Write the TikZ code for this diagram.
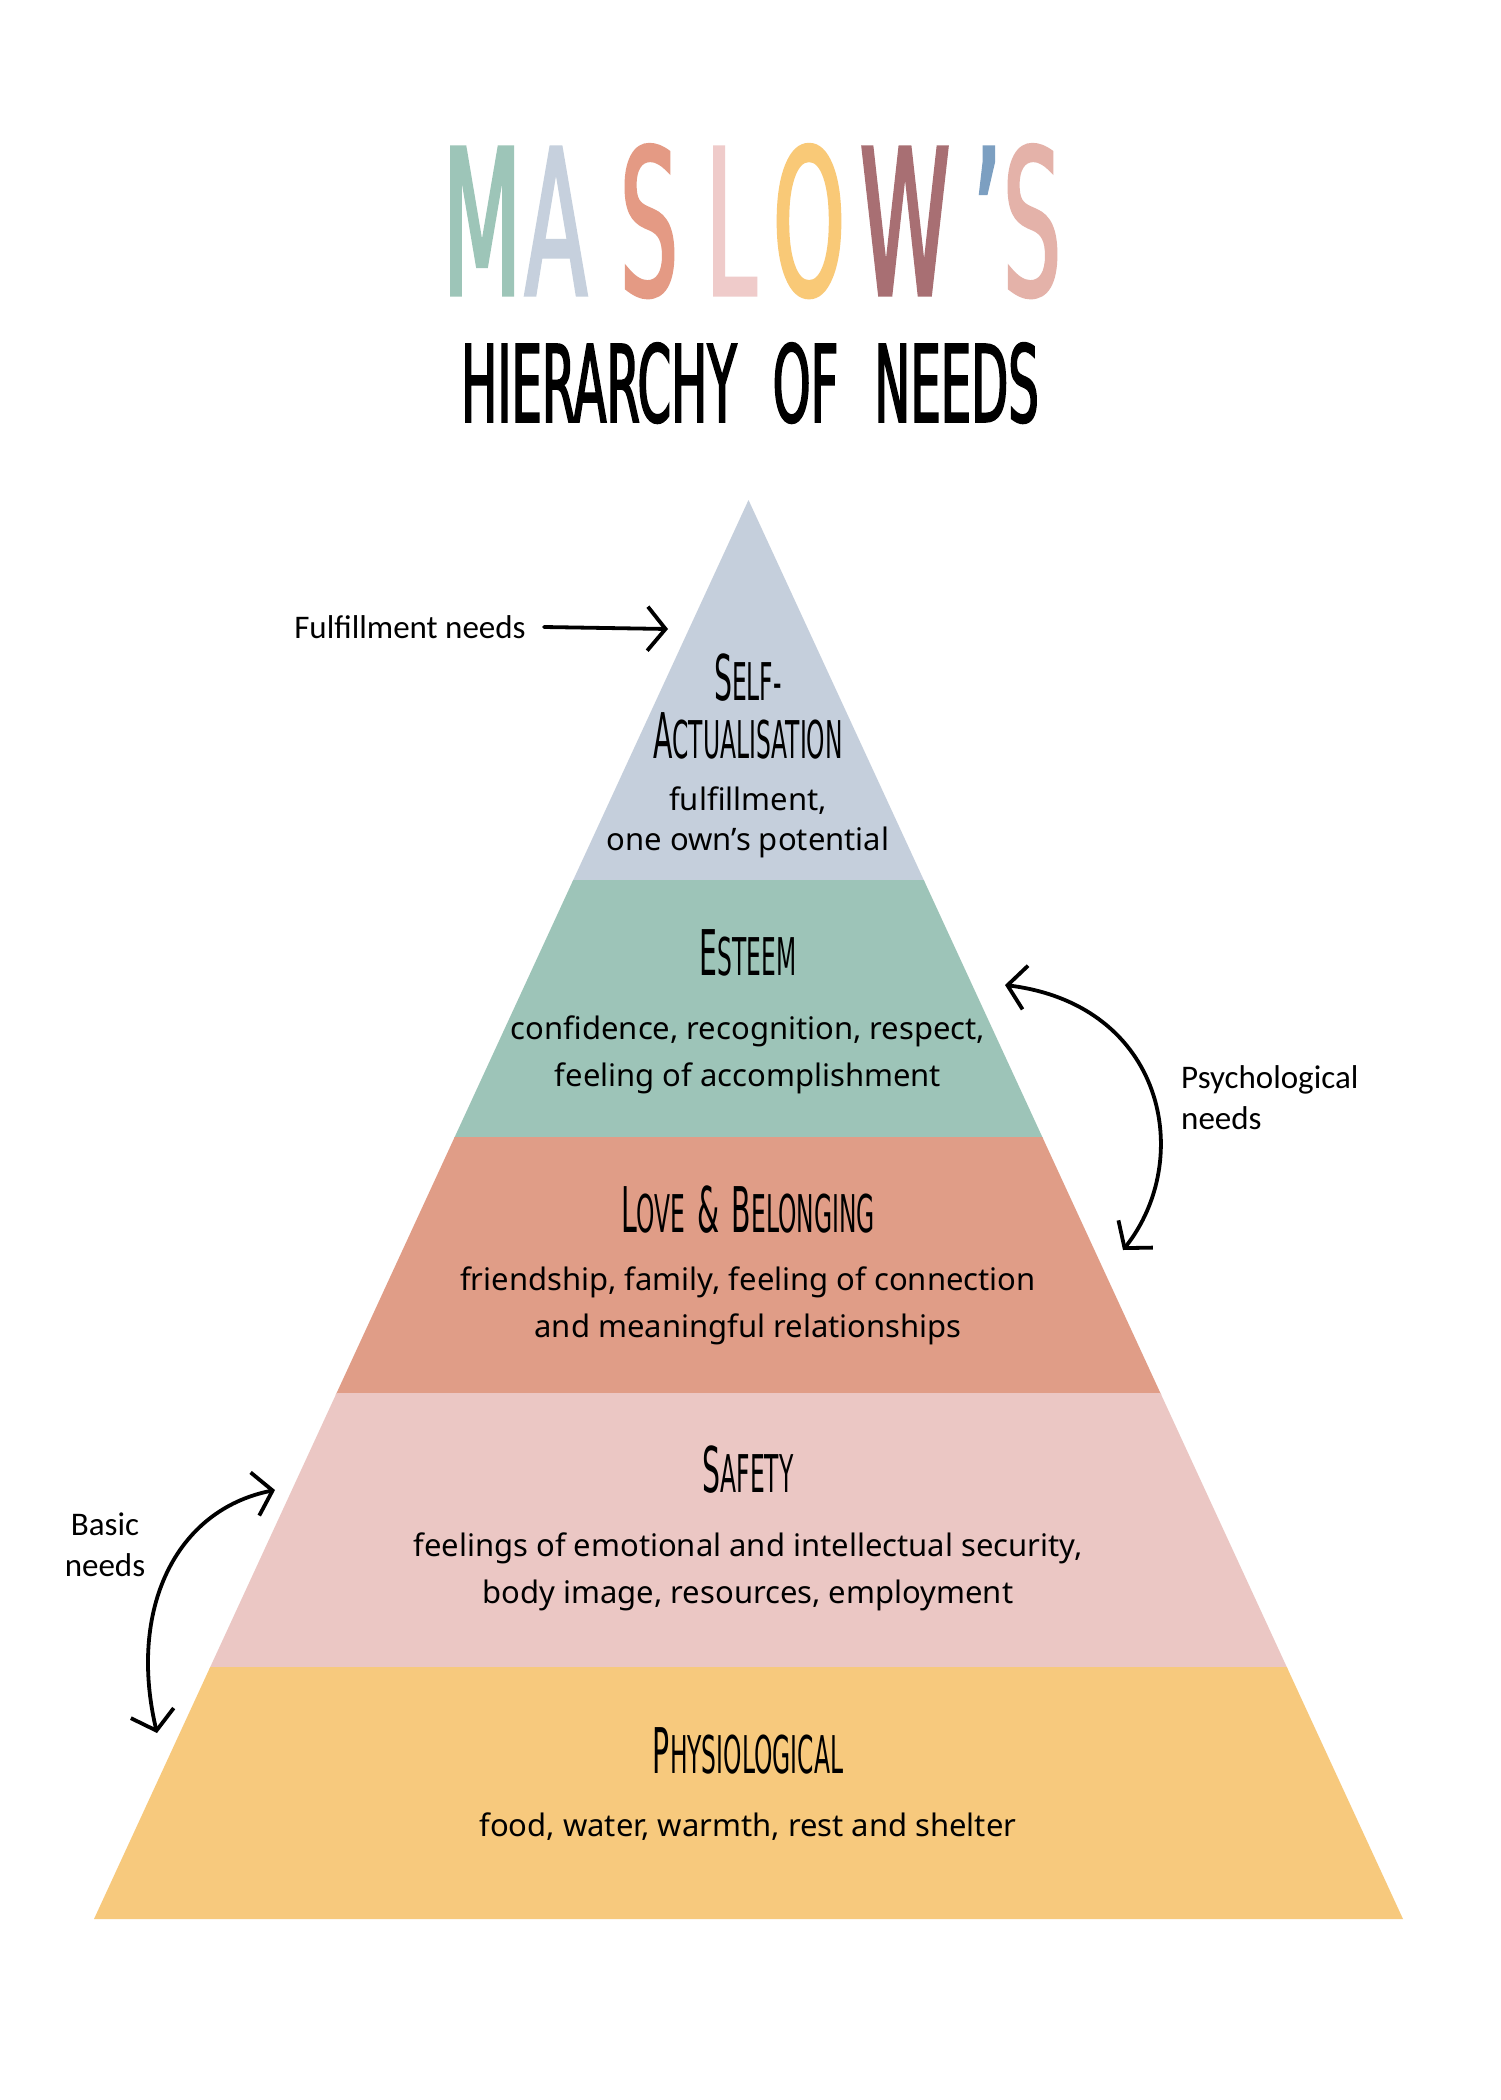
\documentclass[tikz,border=0pt]{standalone}
\usepackage{fontspec}
\setmainfont{Noto Sans}
\newfontfamily\titlefont[FakeStretch=0.45,FakeBold=1.5]{DejaVu Sans}
\newfontfamily\levelfont[FakeStretch=0.45]{DejaVu Sans}
\newfontfamily\notefont{Carlito}
\usetikzlibrary{arrows.meta}
\definecolor{mzmint}{HTML}{9DC5B8}
\definecolor{mzsky}{HTML}{C6D0DD}
\definecolor{mzcoral}{HTML}{E49A84}
\definecolor{mzrose}{HTML}{EFCBCA}
\definecolor{mzsun}{HTML}{F9C977}
\definecolor{mzplum}{HTML}{A86F73}
\definecolor{mzsteel}{HTML}{7C9FC1}
\definecolor{mzblush}{HTML}{E4B2A9}
\definecolor{lvlself}{HTML}{C5CFDC}
\definecolor{lvlesteem}{HTML}{9DC4B8}
\definecolor{lvllove}{HTML}{E09D87}
\definecolor{lvlsafety}{HTML}{EBC7C4}
\definecolor{lvlphysio}{HTML}{F7C97D}
\newcommand{\lvlhead}[2]{{\fontsize{63}{63}\selectfont #1}{\fontsize{52}{52}\selectfont #2}}
\tikzset{
  layerhead/.style={font=\levelfont, text=black, anchor=base, inner sep=0pt},
  layertext/.style={font=\fontsize{31}{47}\selectfont, text=black, align=center, inner sep=0pt},
  handnote/.style={font=\notefont\fontsize{33}{41}\selectfont, text=black, inner sep=0pt},
  needarrow/.style={line width=3.8pt, line cap=round, draw=black},
  >={Straight Barb[length=18pt,width=44pt,line width=3.8pt]}
}

\begin{document}
\begin{tikzpicture}[
        x=1pt,y=-1pt,
        titleletter/.style={font=\titlefont\fontsize{203}{203}\selectfont,
            anchor=base, inner sep=0pt},
        subtitle/.style={font=\titlefont\fontsize{107}{107}\selectfont,
            anchor=base, inner sep=0pt, text=black}
    ]
        \useasboundingbox (0,0) rectangle (1500,2100);
        \fill[white] (0,0) rectangle (1500,2100);

        % title
        \foreach \ch/\col/\xx [count=\i] in {M/mzmint/482,A/mzsky/556,S/mzcoral/649,L/mzrose/731,
            O/mzsun/809,W/mzplum/905,’/mzsteel/987,S/mzblush/1032}
            \node[titleletter, text=\col] (ttl\i) at (\xx,295) {\ch};
        \node[subtitle] (subttl) at (750,422) {HIERARCHY\hspace{36pt}OF\hspace{36pt}NEEDS};

        % pyramid
        \coordinate (apex) at (748.5,500);
        \coordinate (baseL) at (94,1919);
        \coordinate (baseR) at (1403,1919);
        \begin{scope}
            \clip (apex) -- (baseR) -- (baseL) -- cycle;
            \foreach \ytop/\ybot/\col in {480/882/lvlself,880/1139/lvlesteem,1137/1395/lvllove,
                1393/1669/lvlsafety,1667/1925/lvlphysio}
                \fill[\col] (0,\ytop) rectangle (1500,\ybot);
        \end{scope}

        \node[layerhead] (selfhd) at (748,700) {\lvlhead{S}{ELF-}};
        \node[layerhead] (actuhd) at (748,758) {\lvlhead{A}{CTUALISATION}};
        \node[layertext, font=\fontsize{31}{40}\selectfont] (selftx) at (748,822) {fulfillment,\\one own’s potential};

        \node[layerhead] (esthd) at (748,975) {\lvlhead{E}{STEEM}};
        \node[layertext] (esttx) at (748,1055) {confidence, recognition, respect,\\feeling of accomplishment};

        \node[layerhead] (lovehd) at (748,1232) {\lvlhead{L}{OVE}\hspace{12pt}\lvlhead{\&}{}\hspace{12pt}\lvlhead{B}{ELONGING}};
        \node[layertext] (lovetx) at (748,1306) {friendship, family, feeling of connection\\and meaningful relationships};

        \node[layerhead] (safehd) at (748,1492) {\lvlhead{S}{AFETY}};
        \node[layertext] (safetx) at (748,1572) {feelings of emotional and intellectual security,\\body image, resources, employment};

        \node[layerhead] (physhd) at (748,1773) {\lvlhead{P}{HYSIOLOGICAL}};
        \node[layertext] (phystx) at (748,1827) {food, water, warmth, rest and shelter};

        % side notes
        \node[handnote] (fulfil) at (410,627) {Fulfillment needs};
        \node[handnote, align=left, anchor=west] (psych) at (1181,1098) {Psychological\\needs};
        \node[handnote, align=center] (basic) at (105,1545) {Basic\\needs};

        \coordinate (fultip) at (668,629);
        \coordinate (psytop) at (1005,985);
        \coordinate (psybot) at (1123,1250);
        \coordinate (bastop) at (275,1490);
        \coordinate (basbot) at (157,1733);

        \draw[needarrow, ->] ([xshift=18pt]fulfil.east) -- (fultip);
        \draw[needarrow, <->] (psytop) .. controls (1165,1005) and (1195,1159) .. (psybot);
        \draw[needarrow, <->] (bastop) .. controls (175,1510) and (128,1610) .. (basbot);
    \end{tikzpicture}
\end{document}
